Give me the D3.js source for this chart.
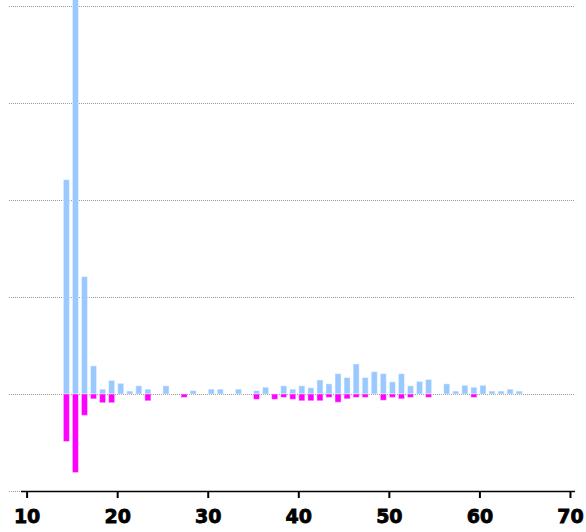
<!DOCTYPE html>
<html><head><meta charset="utf-8">
<script src="https://cdn.jsdelivr.net/npm/d3@7"></script>
<style>body{margin:0;background:#fff}svg{display:block}</style>
</head><body>
<script>
const positions = [14,15,16,17,18,19,20,21,22,23,25,27,28,30,31,33,35,36,37,38,39,40,41,42,43,44,45,46,47,48,49,50,51,52,53,54,56,57,58,59,60,61,62,63,64];
const blueValues = [2.21,4.5,1.21,0.29,0.05,0.14,0.11,0.03,0.085,0.05,0.085,0,0.035,0.05,0.05,0.05,0.035,0.07,0,0.085,0.05,0.085,0.065,0.145,0.105,0.21,0.17,0.31,0.17,0.23,0.21,0.125,0.21,0.085,0.13,0.15,0.105,0.03,0.09,0.07,0.09,0.03,0.03,0.05,0.03];
const magentaValues = [-0.49,-0.81,-0.22,-0.05,-0.09,-0.09,0,0,0,-0.07,0,-0.035,0,0,0,0,-0.055,0,-0.055,-0.035,-0.055,-0.07,-0.07,-0.07,-0.035,-0.085,-0.05,-0.035,-0.035,0,-0.065,-0.035,-0.05,-0.035,0,-0.035,0,0,0,-0.035,0,0,0,0,0];
const gridValues = [-1,0,1,2,3,4];
const xTicks = [10,20,30,40,50,60,70];

const W = 586, H = 532;
const svg = d3.select("body").append("svg").attr("width", W).attr("height", H);
const x = d3.scaleLinear().domain([8, 70.5]).range([9, 575]);
const y = d3.scaleLinear().domain([-1, 4]).range([491, 6]);
const barW = x(14.67) - x(14);

svg.append("g").selectAll("line").data(gridValues).join("line")
  .attr("x1", x(8)).attr("x2", x(70.5))
  .attr("y1", d => y(d) + 0.5).attr("y2", d => y(d) + 0.5)
  .attr("stroke", "#999").attr("stroke-width", 1).attr("stroke-dasharray", "1,1");

const data = positions.map((p, i) => ({p, b: blueValues[i], m: magentaValues[i]}));

svg.append("g").selectAll("rect").data(data.filter(d => d.b > 0)).join("rect")
  .attr("x", d => x(d.p)).attr("width", barW)
  .attr("y", d => y(d.b)).attr("height", d => y(0) - y(d.b))
  .attr("fill", "#99c9ff").attr("stroke", "rgba(255,255,255,0.45)").attr("stroke-width", 1);

svg.append("g").selectAll("rect").data(data.filter(d => d.m < 0)).join("rect")
  .attr("x", d => x(d.p)).attr("width", barW)
  .attr("y", y(0)).attr("height", d => y(d.m) - y(0))
  .attr("fill", "#ff00ff").attr("stroke", "rgba(255,255,255,0.45)").attr("stroke-width", 1);

const ax = svg.append("g").attr("transform", `translate(0,${y(-1)})`);
ax.append("line").attr("x1", x(9.33)).attr("x2", x(70.5)).attr("y1", 0.5).attr("y2", 0.5)
  .attr("stroke", "#000").attr("stroke-width", 1.6);
ax.selectAll("line.tick").data(xTicks).join("line").attr("class", "tick")
  .attr("x1", d => x(d)).attr("x2", d => x(d)).attr("y1", 0).attr("y2", 7)
  .attr("stroke", "#000").attr("stroke-width", 2);
ax.selectAll("text").data(xTicks).join("text")
  .attr("x", d => x(d)).attr("y", 32)
  .attr("text-anchor", "middle")
  .attr("font-family", "DejaVu Sans, Verdana, sans-serif")
  .attr("font-weight", "bold").attr("font-size", 19).attr("fill", "#000")
  .attr("stroke", "#000").attr("stroke-width", 0.8)
  .text(d => d);
</script>
</body></html>
